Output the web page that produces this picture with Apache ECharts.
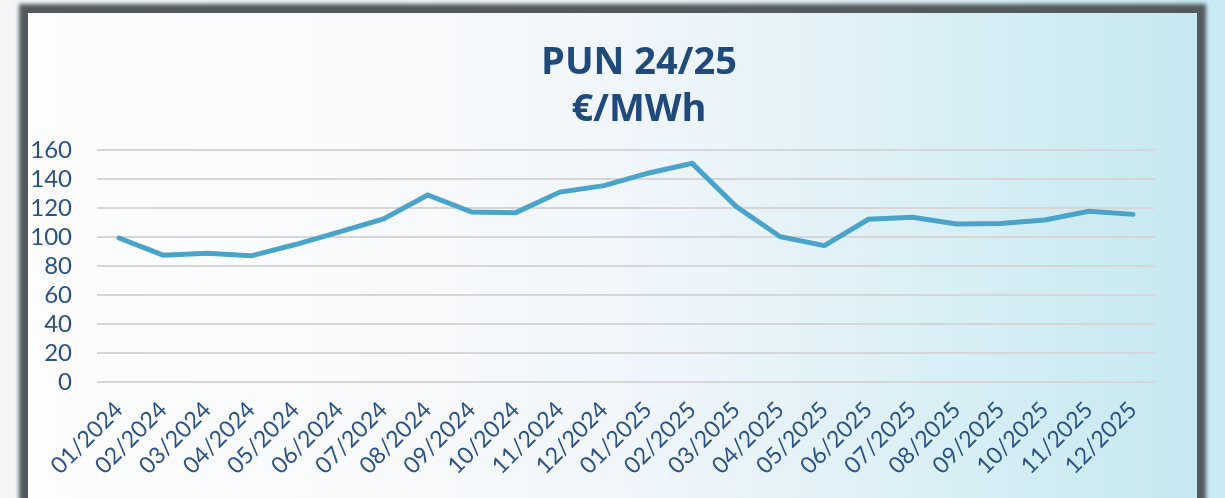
<!DOCTYPE html>
<html>
<head>
<meta charset="utf-8">
<script src="https://cdn.jsdelivr.net/npm/echarts@6/dist/echarts.min.js"></script>
<style>
  html, body { margin: 0; padding: 0; width: 1225px; height: 498px; overflow: hidden; }
  body { background: linear-gradient(to right, #f4f5f6 0%, #eef4f7 50%, #c9eaf3 100%); position: relative; }
  #panel {
    position: absolute; left: 28px; top: 13px; width: 1169px; height: 540px;
    background: linear-gradient(to right, #fdfdfd 0%, #f7f9fb 35%, #eef5fa 55%, #dcf0f6 75%, #c6e8f0 100%);
    box-shadow: 0 0 4px 9px #525a5d;
  }
  #chart { position: absolute; left: 0; top: 0; width: 1225px; height: 498px; }
</style>
</head>
<body>
<div id="panel"></div>
<div id="chart"></div>
<script>
const categories = ["01/2024","02/2024","03/2024","04/2024","05/2024","06/2024","07/2024","08/2024","09/2024","10/2024","11/2024","12/2024",
                    "01/2025","02/2025","03/2025","04/2025","05/2025","06/2025","07/2025","08/2025","09/2025","10/2025","11/2025","12/2025"];
const punValues = [99.3, 87.5, 88.8, 87.0, 94.8, 103.5, 112.5, 129.0, 117.2, 116.8, 131.0, 135.4,
                   144.0, 150.8, 121.0, 100.2, 94.0, 112.2, 113.6, 109.0, 109.3, 111.7, 117.7, 115.6];
const yTicks = { min: 0, max: 160, interval: 20 };
const titleLines = ["PUN 24/25", "€/MWh"];

const chart = echarts.init(document.getElementById('chart'), null, { renderer: 'canvas' });
chart.setOption({
  backgroundColor: 'transparent',
  animation: false,
  title: {
    text: titleLines.join('\n'),
    left: 634, top: 35, textAlign: 'center',
    textStyle: { fontFamily: 'Open Sans', fontWeight: 'bold', fontSize: 38, color: '#1f4a7a', lineHeight: 47 }
  },
  grid: { left: 97, right: 70, top: 150, bottom: 116, containLabel: false },
  xAxis: {
    type: 'category',
    data: categories,
    boundaryGap: true,
    axisLine: { show: false },
    axisTick: { show: false },
    axisLabel: { rotate: 45, interval: 0, margin: 24, color: '#2a5287', fontFamily: 'Lato', fontSize: 23 }
  },
  yAxis: {
    type: 'value',
    min: yTicks.min, max: yTicks.max, interval: yTicks.interval,
    axisLine: { show: false },
    axisTick: { show: false },
    axisLabel: { margin: 25, color: '#2a5287', fontFamily: 'Lato', fontSize: 24 },
    splitLine: { lineStyle: { color: '#d6d6d6', width: 2 } }
  },
  series: [{
    type: 'line',
    data: punValues,
    symbol: 'none',
    lineStyle: { color: '#4aa3c8', width: 5, cap: 'round', join: 'miter' }
  }]
});
</script>
</body>
</html>
